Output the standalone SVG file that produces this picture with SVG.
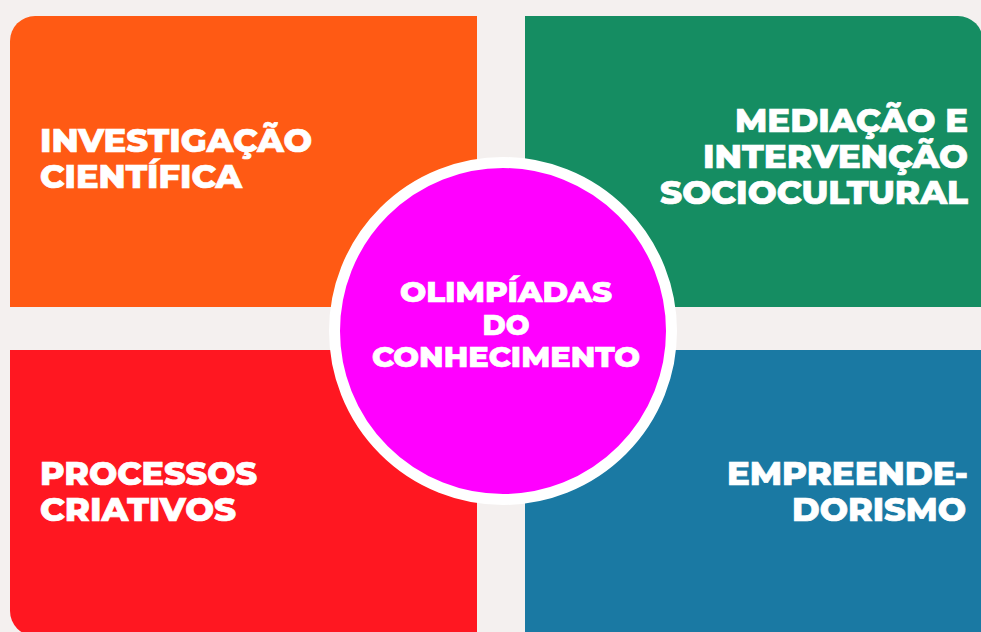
<svg xmlns="http://www.w3.org/2000/svg" width="981" height="632" viewBox="0 0 981 632">
<style>
.t{font-family:"Montserrat","Open Sans","Liberation Sans",sans-serif;font-weight:800;fill:#ffffff;stroke:#ffffff;stroke-width:0.7;font-size:32px}
.c{font-size:28px}
</style>
<rect x="0" y="0" width="981" height="632" fill="#F4F0EF"/>
<g id="investigacao">
<path d="M10,307 V41 A25,25 0 0 1 35,16 H477 V307 Z" fill="#FF5A14"/>
<text class="t" x="40" y="152" textLength="272" lengthAdjust="spacingAndGlyphs">INVESTIGAÇÃO</text>
<text class="t" x="40" y="188" textLength="202" lengthAdjust="spacingAndGlyphs">CIENTÍFICA</text>
</g>
<g id="mediacao">
<path d="M525,16 H958 A25,25 0 0 1 983,41 V307 H525 Z" fill="#158D62"/>
<text class="t" x="968" y="132" text-anchor="end" textLength="233" lengthAdjust="spacingAndGlyphs">MEDIAÇÃO E</text>
<text class="t" x="968" y="168" text-anchor="end" textLength="265" lengthAdjust="spacingAndGlyphs">INTERVENÇÃO</text>
<text class="t" x="968" y="204" text-anchor="end" textLength="308" lengthAdjust="spacingAndGlyphs">SOCIOCULTURAL</text>
</g>
<g id="processos">
<path d="M10,350 H477 V636 H35 A25,25 0 0 1 10,611 Z" fill="#FF1721"/>
<text class="t" x="40" y="485" textLength="217" lengthAdjust="spacingAndGlyphs">PROCESSOS</text>
<text class="t" x="40" y="521" textLength="196" lengthAdjust="spacingAndGlyphs">CRIATIVOS</text>
</g>
<g id="empreendedorismo">
<rect x="525" y="350" width="470" height="290" fill="#1A79A3"/>
<text class="t" x="968" y="485" text-anchor="end" textLength="241" lengthAdjust="spacingAndGlyphs">EMPREENDE-</text>
<text class="t" x="966" y="521" text-anchor="end" textLength="174" lengthAdjust="spacingAndGlyphs">DORISMO</text>
</g>
<g id="olimpiadas">
<circle cx="503" cy="331" r="168.5" fill="#FF00FF" stroke="#ffffff" stroke-width="11"/>
<text class="t c" x="506" y="302" text-anchor="middle" textLength="212" lengthAdjust="spacingAndGlyphs">OLIMPÍADAS</text>
<text class="t c" x="506" y="335" text-anchor="middle" textLength="47" lengthAdjust="spacingAndGlyphs">DO</text>
<text class="t c" x="506" y="367" text-anchor="middle" textLength="268" lengthAdjust="spacingAndGlyphs">CONHECIMENTO</text>
</g>
<g id="connectors"></g>
</svg>
